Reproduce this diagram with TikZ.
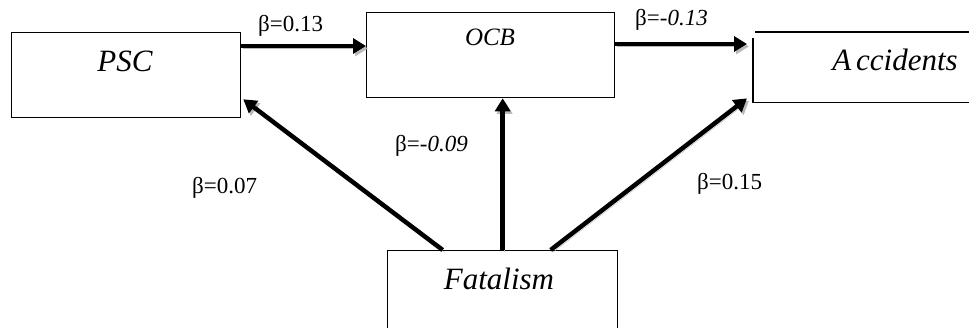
\documentclass[tikz,border=0pt]{standalone}
\usepackage{fontspec}
\setmainfont{Liberation Serif}
\usetikzlibrary{arrows.meta,calc}
\begin{document}
\begin{tikzpicture}[x=1pt,y=-1pt,
  box/.style={draw, line width=1.3pt, rectangle, inner sep=0pt, anchor=north west},
  openbox/.style={rectangle, inner sep=0pt, anchor=north west},
  edge/.style={line width=1.3pt},
  boxtext/.style={font=\fontsize{31}{36}\selectfont\itshape, inner sep=0pt, anchor=base},
  smalltext/.style={font=\fontsize{25}{30}\selectfont\itshape, inner sep=0pt, anchor=base},
  coef/.style={font=\fontsize{23}{27}\selectfont, inner sep=0pt, anchor=base west},
  effect/.style={line width=4.5pt, -{Triangle[length=13pt,width=15pt]},
    preaction={draw=gray!55, transform canvas={shift={(2pt,-2.5pt)}}}}]
\useasboundingbox (0,0) rectangle (969,328);
\clip (0,0) rectangle (969,328);
% boxes
\node[box, minimum width=229pt, minimum height=85pt] (psc) at (11,32) {};
\node[box, minimum width=248pt, minimum height=85pt] (ocb) at (366,12) {};
\node[openbox, minimum width=260pt, minimum height=70pt] (acc) at (753,32) {};
\node[box, minimum width=230pt, minimum height=120pt] (fat) at (387,250) {};
\draw[edge] ($(acc.north west)+(2,0)$) -- (acc.north east);
\draw[edge] ($(acc.north west)+(0,6)$) -- (acc.south west) -- (acc.south east);
% texts
\node[boxtext] (psct) at (125,72) {PSC};
\node[smalltext] (ocbt) at (490,46) {OCB};
\node[boxtext] (acct) at (895,71) {A\hspace{5pt}ccidents};
\node[boxtext] (fatt) at (499,290) {Fatalism};
% arrows
\draw[effect] ($(psc.north east)+(0,14)$) -- ($(ocb.north west)+(0,34)$);
\draw[effect] ($(ocb.north east)+(0,32)$) -- ($(acc.north west)+(-6,12)$);
\draw[effect] ($(fat.north)+(-60,0)$) -- ($(psc.south east)+(2,-19)$);
\draw[effect] (fat.north) -- (fat.north |- ocb.south);
\draw[effect] ($(fat.north)+(48,0)$) -- ($(acc.south west)+(-6,-4)$);
% coefficients
\node[coef] (c1) at (258,32) {β=0.13};
\node[coef] (c2) at (635,26) {β=\textit{-0.13}};
\node[coef] (c3) at (395,152) {β=\textit{-0.09}};
\node[coef] (c4) at (192,194) {β=0.07};
\node[coef] (c5) at (697,190) {β=0.15};
\end{tikzpicture}
\end{document}
